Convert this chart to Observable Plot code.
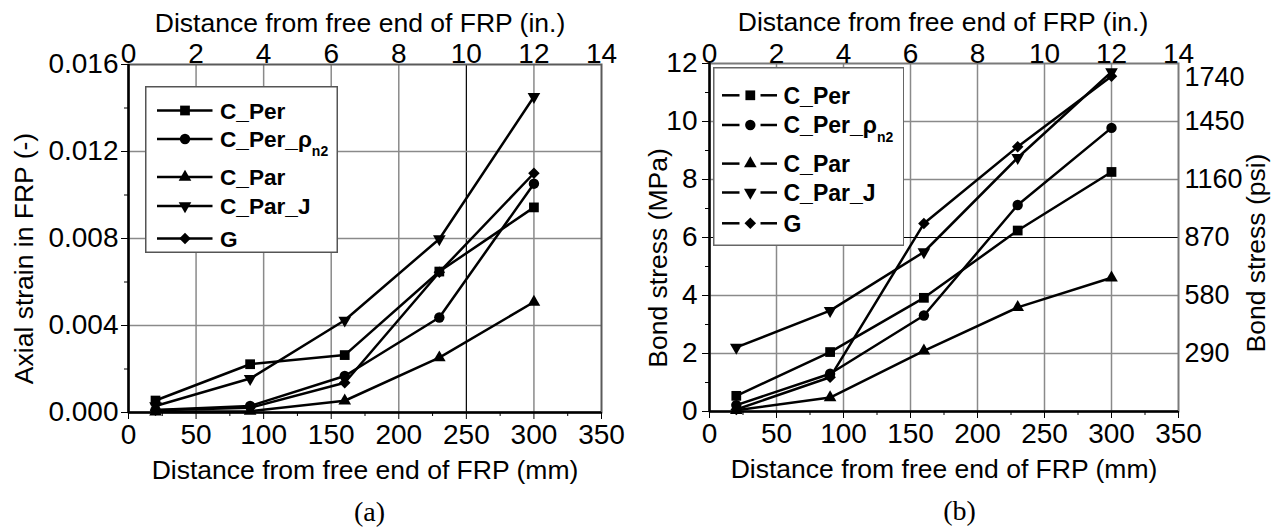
<!DOCTYPE html>
<html>
<head>
<meta charset="utf-8">
<script src="https://cdn.jsdelivr.net/npm/d3@7"></script>
<script src="https://cdn.jsdelivr.net/npm/@observablehq/plot@0.6"></script>
<style>
  html, body { margin: 0; padding: 0; background: #fff; }
  #wrap { position: relative; width: 1279px; height: 529px; overflow: hidden; background: #fff;
          font-family: "Liberation Sans", Arial, sans-serif; }
  .panel { position: absolute; top: 0; }
  .legend { position: absolute; }
</style>
</head>
<body>
<div id="wrap"></div>
<script>
// ---------------- data ----------------
const distMM = [20, 90, 160, 230, 300];
const seriesNames = ["C_Per", "C_Per_ρn2", "C_Par", "C_Par_J", "G"];

// (a) axial strain in FRP (-)
const strainCPer    = [0.00055, 0.00222, 0.00264, 0.00648, 0.00943];
const strainCPerRho = [0.00012, 0.00030, 0.00168, 0.00437, 0.01052];
const strainCPar    = [0.00003, 0.00006, 0.00054, 0.00252, 0.00508];
const strainCParJ   = [0.00030, 0.00156, 0.00424, 0.00798, 0.01452];
const strainG       = [0.00010, 0.00022, 0.00137, 0.00645, 0.01100];

// (b) bond stress (MPa)
const stressCPer    = [0.54, 2.05, 3.92, 6.24, 8.26];
const stressCPerRho = [0.22, 1.30, 3.31, 7.12, 9.78];
const stressCPar    = [0.04, 0.48, 2.09, 3.59, 4.61];
const stressCParJ   = [2.21, 3.48, 5.50, 8.75, 11.71];
const stressG       = [0.07, 1.18, 6.48, 9.13, 11.56];

// ticks
const mmTicks     = [0, 50, 100, 150, 200, 250, 300, 350];
const mmMinor     = [25, 75, 125, 175, 225, 275, 325];
const inchTicks   = [0, 2, 4, 6, 8, 10, 12, 14];
const strainTicks = [0, 0.004, 0.008, 0.012, 0.016];
const strainMinor = [0.002, 0.006, 0.010, 0.014];
const stressTicks = [0, 2, 4, 6, 8, 10, 12];
const stressMinor = [1, 3, 5, 7, 9, 11];
const psiTicks    = [290, 580, 870, 1160, 1450, 1740];
const psiPerMPa = 145;
const mmPerInchOnAxis = 25; // top axis 0–14 drawn over the same span as 0–350

// ---------------- helpers ----------------
const triangleDown = {
  draw(context, size) {
    const y = -Math.sqrt(size / (Math.sqrt(3) * 3));
    context.moveTo(0, -y * 2);
    context.lineTo(-Math.sqrt(3) * y, y);
    context.lineTo(Math.sqrt(3) * y, y);
    context.closePath();
  }
};
const symbolTypes = [d3.symbolSquare, d3.symbolCircle, d3.symbolTriangle, triangleDown, d3.symbolDiamond2];
const symbolR = [5.5, 5.2, 4.7, 4.7, 5.2];

function tidy(seriesArrays) {
  const rows = [];
  seriesArrays.forEach((vals, i) => vals.forEach((v, j) => rows.push({series: seriesNames[i], x: distMM[j], y: v})));
  return rows;
}
const rowsA = tidy([strainCPer, strainCPerRho, strainCPar, strainCParJ, strainG]);
const rowsB = tidy([stressCPer, stressCPerRho, stressCPar, stressCParJ, stressG]);

const SANS = "Liberation Sans, Arial, sans-serif";
const SERIF = "Liberation Serif, Times New Roman, serif";
const GRID = "#8a8a8a";

function dataMarks(rows) {
  const marks = [Plot.line(rows, {x: "x", y: "y", z: "series", stroke: "#000", strokeWidth: 2.5})];
  seriesNames.forEach((name, i) => {
    marks.push(Plot.dot(rows.filter(d => d.series === name),
      {x: "x", y: "y", symbol: symbolTypes[i], r: symbolR[i], fill: "#000", stroke: "none"}));
  });
  return marks;
}

function title(txt, opts) {
  return Plot.text([txt], {text: d => d, fontFamily: SANS, fontSize: 26.5, textAnchor: "middle", lineAnchor: "middle", fill: "#000", ...opts});
}
const psiLabel = d => String(Math.round(d * psiPerMPa));

const wrap = document.getElementById("wrap");

// ---------------- panel (a) ----------------
const plotA = Plot.plot({
  width: 640, height: 529,
  marginLeft: 128, marginRight: 39, marginTop: 64, marginBottom: 117,
  style: {fontFamily: SANS, fontSize: "28px", color: "#000", background: "transparent", overflow: "visible"},
  x: {domain: [0, 350], label: null},
  y: {domain: [0, 0.016], label: null},
  marks: [
    Plot.gridX({ticks: [50, 100, 150, 200, 300], stroke: GRID, strokeOpacity: 1, strokeWidth: 1.5}),
    Plot.gridX({ticks: [250], stroke: "#000", strokeOpacity: 1, strokeWidth: 1.2}),
    Plot.gridY({ticks: strainTicks.slice(1, -1), stroke: GRID, strokeOpacity: 1, strokeWidth: 1.5}),
    Plot.frame({stroke: "#5a5a5a", strokeWidth: 2}),
    Plot.axisX({anchor: "bottom", ticks: mmTicks, tickSize: 7, tickPadding: 5, fontSize: 28, label: null}),
    Plot.axisX({anchor: "bottom", ticks: mmMinor, tickSize: 4, tickFormat: () => "", label: null}),
    Plot.axisX({anchor: "top", ticks: inchTicks.map(d => d * mmPerInchOnAxis), tickFormat: d => String(d / mmPerInchOnAxis),
                tickSize: 0, tickPadding: 2, fontSize: 28, label: null}),
    Plot.axisY({anchor: "left", ticks: strainTicks, tickFormat: d3.format(".3f"), tickSize: 7, tickPadding: 3, fontSize: 28, label: null}),
    Plot.axisY({anchor: "left", ticks: strainMinor, tickSize: 4, tickFormat: () => "", label: null}),
    Plot.ruleY([0], {stroke: "#000", strokeWidth: 2.5}),
    Plot.ruleX([0], {stroke: "#000", strokeWidth: 2.5}),
    ...dataMarks(rowsA),
    title("Distance from free end of FRP (mm)", {frameAnchor: "bottom", dy: 58}),
    title("Distance from free end of FRP (in.)", {frameAnchor: "top", dy: -40.5, dx: -5}),
    title("Axial strain in FRP (-)", {frameAnchor: "left", rotate: -90, dx: -103.5, dy: 20}),
    Plot.text(["(a)"], {text: d => d, frameAnchor: "bottom", dy: 100, dx: 4.5, fontFamily: SERIF, fontSize: 28,
                        textAnchor: "middle", lineAnchor: "middle", fill: "#000"})
  ]
});
plotA.classList.add("panel");
plotA.style.left = "0px";
wrap.appendChild(plotA);

// ---------------- panel (b) ----------------
const plotB = Plot.plot({
  width: 639, height: 529,
  marginLeft: 69, marginRight: 101, marginTop: 63, marginBottom: 118,
  style: {fontFamily: SANS, fontSize: "28px", color: "#000", background: "transparent", overflow: "visible"},
  x: {domain: [0, 350], label: null},
  y: {domain: [0, 12], label: null},
  marks: [
    Plot.gridX({ticks: mmTicks.slice(1, -1), stroke: GRID, strokeOpacity: 1, strokeWidth: 1.5}),
    Plot.gridY({ticks: [2, 4, 8, 10], stroke: GRID, strokeOpacity: 1, strokeWidth: 1.5}),
    Plot.gridY({ticks: [6], stroke: "#000", strokeOpacity: 1, strokeWidth: 1.2}),
    Plot.frame({stroke: "#7a7a7a", strokeWidth: 2}),
    Plot.axisX({anchor: "bottom", ticks: mmTicks, tickSize: 7, tickPadding: 5, fontSize: 28, label: null}),
    Plot.axisX({anchor: "bottom", ticks: mmMinor, tickSize: 4, tickFormat: () => "", label: null}),
    Plot.axisX({anchor: "top", ticks: inchTicks.map(d => d * mmPerInchOnAxis), tickFormat: d => String(d / mmPerInchOnAxis),
                tickSize: 0, tickPadding: 1, fontSize: 28, label: null}),
    Plot.axisY({anchor: "left", ticks: stressTicks, tickSize: 7, tickPadding: 5, fontSize: 28, label: null}),
    Plot.axisY({anchor: "left", ticks: stressMinor, tickSize: 4, tickFormat: () => "", label: null}),
    Plot.axisY({anchor: "right", ticks: psiTicks.slice(0, -1).map(p => p / psiPerMPa), tickFormat: psiLabel,
                tickSize: 0, tickPadding: 6, fontSize: 27, label: null}),
    Plot.axisY({anchor: "right", ticks: psiTicks.slice(-1).map(p => p / psiPerMPa), tickFormat: psiLabel,
                tickSize: 0, tickPadding: 6, dy: 14, fontSize: 27, label: null}),
    Plot.ruleY([0], {stroke: "#000", strokeWidth: 2.5}),
    Plot.ruleX([0], {stroke: "#000", strokeWidth: 2.5}),
    ...dataMarks(rowsB),
    title("Distance from free end of FRP (mm)", {frameAnchor: "bottom", dy: 58}),
    title("Distance from free end of FRP (in.)", {frameAnchor: "top", dy: -40.5, dx: -1}),
    title("Bond stress (MPa)", {frameAnchor: "left", rotate: -90, dx: -51, dy: 20.5}),
    title("Bond stress (psi)", {frameAnchor: "right", rotate: -90, dx: 78, dy: 15.5}),
    Plot.text(["(b)"], {text: d => d, frameAnchor: "bottom", dy: 100, dx: 15.5, fontFamily: SERIF, fontSize: 28,
                        textAnchor: "middle", lineAnchor: "middle", fill: "#000"})
  ]
});
plotB.classList.add("panel");
plotB.style.left = "640px";
wrap.appendChild(plotB);

// ---------------- legends ----------------
function drawLegend(o) {
  const svg = d3.select(wrap).append("svg")
    .attr("class", "legend")
    .style("left", o.left + "px").style("top", o.top + "px")
    .attr("width", o.width).attr("height", o.height);
  svg.append("rect").attr("x", 0.75).attr("y", 0.75)
    .attr("width", o.width - 1.5).attr("height", o.height - 1.5)
    .attr("fill", "#fff").attr("stroke", o.border).attr("stroke-width", 1.5);
  seriesNames.forEach((name, i) => {
    const y = o.rowY[i];
    const g = svg.append("g");
    o.segments.forEach(([a, b]) => g.append("line")
      .attr("x1", a).attr("x2", b).attr("y1", y).attr("y2", y)
      .attr("stroke", "#000").attr("stroke-width", 2.5));
    g.append("path")
      .attr("d", d3.symbol(symbolTypes[i], Math.PI * symbolR[i] * symbolR[i])())
      .attr("transform", `translate(${o.markerX},${y})`)
      .attr("fill", "#000");
    const t = g.append("text").attr("x", o.textX).attr("y", y).attr("dy", "0.36em")
      .attr("font-family", SANS).attr("font-weight", "bold").attr("font-size", o.fontSize).attr("fill", "#000");
    const m = name.match(/^(.*ρ)(n2)$/);
    if (m) {
      t.append("tspan").text(m[1]);
      t.append("tspan").attr("font-size", 14).attr("dy", 9).text(m[2]);
    } else {
      t.text(name);
    }
  });
}

drawLegend({
  left: 144.5, top: 85.5, width: 193, height: 167, border: "#555",
  rowY: [24.5, 53, 91, 120, 152.5],
  segments: [[12, 67.5]], markerX: 40, textX: 75, fontSize: 22.6
});
drawLegend({
  left: 712.5, top: 67, width: 191.5, height: 179, border: "#666",
  rowY: [28.3, 58, 96.6, 125.5, 156.3],
  segments: [[9, 26.5], [47.5, 64]], markerX: 37.3, textX: 70.5, fontSize: 23
});
</script>
</body>
</html>
